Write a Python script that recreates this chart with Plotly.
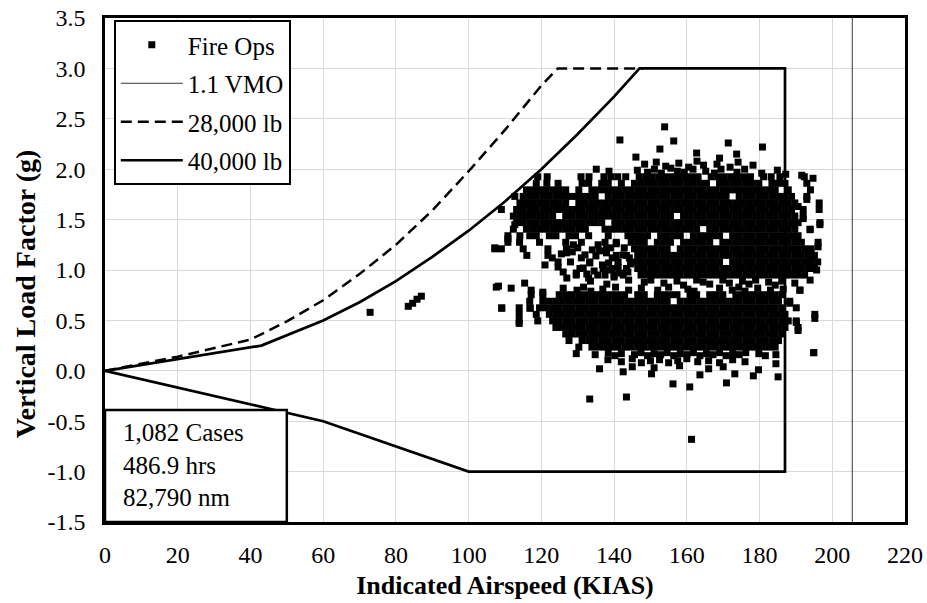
import plotly.graph_objects as go

# ---------------- data ----------------
x_tick_vals = [0, 20, 40, 60, 80, 100, 120, 140, 160, 180, 200, 220]
y_tick_vals = [-1.5, -1.0, -0.5, 0.0, 0.5, 1.0, 1.5, 2.0, 2.5, 3.0, 3.5]
y_tick_text = ["-1.5", "-1.0", "-0.5", "0.0", "0.5", "1.0", "1.5", "2.0", "2.5", "3.0", "3.5"]

# 1.1 VMO limit line
vmo_x = [205.5, 205.5]
vmo_y = [-1.5, 3.5]

# 28,000 lb envelope (dashed)
w28_x = [0, 20, 40, 50, 60, 70, 80, 90, 100, 110, 120, 124.5, 148]
w28_y = [0, 0.14, 0.31, 0.49, 0.70, 0.96, 1.25, 1.59, 1.98, 2.39, 2.83, 3.0, 3.0]

# 40,000 lb envelope (solid)
w40_x = [0, 43, 60, 70, 80, 90, 100, 110, 120, 130, 140, 147, 187, 187, 100, 60, 0]
w40_y = [0, 0.25, 0.5, 0.68, 0.89, 1.13, 1.39, 1.68, 2.0, 2.35, 2.72, 3.0, 3.0, -1.0, -1.0, -0.5, 0]

# Fire Ops points in the dense bands, read row by row (load factor, airspeeds)
upper_rows = [
    (1.925, [119.0, 121.6, 130.9, 133.1, 137.2, 139.1, 141.0, 143.2, 146.9, 148.7, 150.5, 152.3, 154.1, 155.9,
             157.7, 159.5, 161.3, 163.1, 166.7, 168.5, 170.3, 172.1, 173.9, 175.7, 177.5, 181.1, 183.2, 185.6,
             192.3]),
    (1.86, [118.6, 121.5, 124.6, 131.2, 133.0, 136.6, 138.4, 142.0, 145.6, 147.4, 149.2, 151.0, 152.8, 154.6,
            156.4, 158.2, 160.0, 161.8, 163.6, 165.4, 169.0, 170.8, 172.6, 174.4, 176.2, 178.0, 179.8, 183.4,
            185.2, 187.0, 193.0]),
    (1.795, [115.9, 117.7, 119.5, 121.3, 123.1, 124.9, 126.7, 130.3, 133.9, 135.7, 137.5, 139.3, 141.1, 142.9,
             144.7, 146.5, 148.3, 150.1, 151.9, 153.7, 155.5, 157.3, 159.1, 160.9, 162.7, 164.5, 166.3, 168.1,
             169.9, 171.7, 173.5, 175.3, 177.1, 178.9, 180.7, 182.5, 184.3, 187.9, 194.0]),
    (1.73, [115.0, 116.8, 118.6, 120.4, 122.2, 124.0, 125.8, 127.6, 129.4, 131.2, 133.0, 134.8, 138.4, 140.2,
            142.0, 143.8, 145.6, 147.4, 149.2, 151.0, 152.8, 154.6, 156.4, 158.2, 160.0, 161.8, 163.6, 165.4,
            167.2, 169.0, 170.8, 174.4, 176.2, 178.0, 179.8, 181.6, 183.4, 185.2, 187.0, 188.8, 193.0]),
    (1.665, [114.1, 115.9, 117.7, 119.5, 121.3, 123.1, 124.9, 126.7, 130.3, 132.1, 133.9, 135.7, 137.5,
             139.3, 141.1, 142.9, 144.7, 146.5, 148.3, 150.1, 151.9, 153.7, 155.5, 157.3, 159.1, 160.9, 162.7,
             164.5, 166.3, 168.1, 169.9, 171.7, 173.5, 175.3, 177.1, 178.9, 180.7, 182.5, 184.3, 186.1, 187.9,
             189.7, 196.4]),
    (1.60, [109.0, 113.2, 115.0, 116.8, 118.6, 120.4, 122.2, 124.0, 125.8, 127.6, 129.4, 131.2, 133.0, 134.8,
            136.6, 138.4, 140.2, 142.0, 143.8, 145.6, 147.4, 149.2, 151.0, 152.8, 154.6, 156.4, 158.2, 160.0,
            161.8, 163.6, 165.4, 167.2, 169.0, 170.8, 172.6, 174.4, 176.2, 178.0, 179.8, 181.6, 183.4, 185.2,
            187.0, 188.8, 192.0]),
    (1.535, [112.3, 114.1, 115.9, 117.7, 119.5, 121.3, 123.1, 126.7, 128.5, 130.3, 132.1, 133.9, 135.7,
             137.5, 139.3, 141.1, 142.9, 144.7, 146.5, 148.3, 150.1, 151.9, 153.7, 155.5, 159.1, 160.9,
             162.7, 164.5, 166.3, 168.1, 169.9, 171.7, 173.5, 175.3, 177.1, 178.9, 180.7, 182.5, 184.3, 186.1,
             187.9, 189.7, 192.0]),
    (1.47, [113.2, 115.0, 116.8, 118.6, 120.4, 122.2, 124.0, 125.8, 127.6, 129.4, 131.2, 133.0, 134.8, 136.6,
            140.2, 142.0, 143.8, 145.6, 147.4, 149.2, 151.0, 152.8, 154.6, 156.4, 158.2, 160.0, 161.8,
            163.6, 165.4, 167.2, 169.0, 170.8, 172.6, 174.4, 176.2, 178.0, 179.8, 181.6, 183.4, 185.2, 187.0,
            188.8, 190.6, 196.6]),
    (1.405, [112.3, 115.9, 117.7, 119.5, 121.3, 123.1, 124.9, 126.7, 128.5, 130.3, 132.1, 137.5,
             139.3, 141.1, 142.9, 144.7, 146.5, 148.3, 150.1, 151.9, 153.7, 155.5, 157.3, 159.1, 160.9, 162.7,
             166.3, 168.1, 169.9, 171.7, 173.5, 175.3, 177.1, 178.9, 180.7, 182.5, 184.3, 186.1, 187.9,
             189.7, 193.9]),
    (1.34, [110.8, 114.1, 116.8, 118.6, 122.2, 124.0, 127.6, 129.4, 133.0, 138.4, 143.8, 145.6, 147.4, 149.2,
            152.8, 154.6, 156.4, 158.2, 161.8, 163.6, 165.4, 167.2, 169.0, 172.6, 174.4, 176.2, 178.0, 179.8,
            181.6, 183.4, 185.2, 187.0, 188.8, 190.6]),
]

middle_rows = [
    (1.275, [110.8, 114.0, 119.5, 126.7, 131.0, 137.5, 140.6, 144.7, 146.5, 148.3, 151.9, 153.7, 155.5,
             159.1, 160.9, 162.7, 164.5, 166.3, 169.9, 171.7, 173.5, 175.3, 177.1, 178.9, 180.7,
             182.5, 184.3, 186.1, 187.9, 189.7, 191.5, 196.1]),
    (1.21, [107.2, 109.0, 115.0, 121.8, 126.9, 137.9, 145.6, 147.4, 149.2, 151.0, 152.8, 154.6, 158.2,
            160.0, 161.8, 163.6, 165.4, 167.2, 169.0, 170.8, 172.6, 174.4, 176.2, 178.0, 179.8, 181.6, 183.4,
            185.2, 187.0, 188.8, 190.6, 192.4, 194.2]),
    (1.145, [116.0, 121.8, 140.6, 143.4, 146.5, 148.3, 150.1, 151.9, 153.7, 155.5, 157.3, 159.1, 160.9, 162.7,
             164.5, 166.3, 168.1, 169.9, 171.7, 173.5, 175.3, 177.1, 178.9, 180.7, 182.5, 184.3, 186.1, 187.9,
             189.7, 191.5, 193.3, 195.1]),
    (1.08, [124.6, 133.3, 141.1, 145.6, 147.4, 149.2, 151.0, 152.8, 154.6, 156.4, 158.2, 160.0, 161.8, 163.6,
            165.4, 167.2, 169.0, 172.6, 174.4, 176.2, 178.0, 179.8, 181.6, 183.4, 185.2, 187.0, 188.8,
            190.6, 192.4, 194.2, 196.0]),
    (1.015, [130.6, 137.0, 139.5, 143.4, 146.5, 148.3, 150.1, 151.9, 153.7, 155.5, 157.3, 159.1, 160.9, 162.7,
             164.5, 166.3, 168.1, 169.9, 171.7, 173.5, 175.3, 177.1, 178.9, 180.7, 182.5, 184.3, 186.1, 187.9,
             189.7, 191.5, 193.3, 195.1]),
    (0.95, [129.6, 135.5, 140.0, 142.5, 147.4, 149.2, 151.0, 152.8, 154.6, 156.4, 158.2, 160.0, 161.8, 163.6,
            165.4, 167.2, 169.0, 170.8, 172.6, 174.4, 176.2, 178.0, 179.8, 181.6, 183.4, 185.2, 187.0, 188.8,
            190.6, 192.4]),
]

lower_rows = [
    (0.755, [117.2, 120.4, 124.9, 126.7, 128.5, 130.3, 132.1, 133.9, 135.7, 137.5, 139.3, 141.1, 142.9, 146.5,
             148.3, 151.9, 153.7, 155.5, 157.3, 160.9, 162.7, 166.3, 168.1, 169.9, 173.5, 175.3, 177.1,
             178.9, 180.7, 182.5, 184.3, 186.1]),
    (0.69, [116.8, 120.4, 122.2, 124.0, 125.8, 127.6, 129.4, 131.2, 133.0, 134.8, 136.6, 138.4, 140.2, 142.0,
            143.8, 145.6, 147.4, 149.2, 151.0, 152.8, 154.6, 158.2, 160.0, 161.8, 163.6, 165.4, 167.2,
            169.0, 170.8, 172.6, 174.4, 176.2, 178.0, 179.8, 181.6, 183.4, 185.2, 188.3]),
    (0.625, [109.1, 113.9, 116.9, 119.5, 121.3, 123.1, 124.9, 126.7, 128.5, 130.3, 132.1, 133.9, 135.7, 137.5,
             139.3, 141.1, 142.9, 144.7, 146.5, 148.3, 150.1, 151.9, 153.7, 155.5, 157.3, 159.1, 160.9, 162.7,
             164.5, 166.3, 168.1, 169.9, 171.7, 173.5, 175.3, 177.1, 178.9, 180.7, 182.5, 184.3, 186.1, 190.1]),
    (0.56, [113.9, 118.6, 122.2, 124.0, 125.8, 127.6, 129.4, 131.2, 133.0, 134.8, 136.6, 138.4, 140.2, 142.0,
            143.8, 145.6, 147.4, 149.2, 151.0, 152.8, 154.6, 156.4, 158.2, 160.0, 161.8, 163.6, 165.4, 167.2,
            169.0, 170.8, 172.6, 174.4, 176.2, 178.0, 179.8, 181.6, 183.4, 185.2, 187.0, 195.2]),
    (0.495, [113.9, 119.0, 123.1, 124.9, 126.7, 128.5, 130.3, 132.1, 133.9, 135.7, 137.5, 139.3, 141.1, 142.9,
             144.7, 146.5, 148.3, 150.1, 151.9, 153.7, 155.5, 157.3, 159.1, 160.9, 162.7, 164.5, 166.3, 168.1,
             169.9, 171.7, 173.5, 175.3, 177.1, 178.9, 180.7, 182.5, 184.3, 186.1, 187.9, 190.1]),
    (0.43, [124.0, 125.8, 127.6, 129.4, 131.2, 133.0, 134.8, 136.6, 138.4, 140.2, 142.0, 143.8, 145.6, 147.4,
            149.2, 151.0, 152.8, 154.6, 156.4, 158.2, 160.0, 161.8, 163.6, 165.4, 167.2, 169.0, 170.8, 172.6,
            174.4, 176.2, 178.0, 179.8, 181.6, 183.4, 185.2, 187.0, 190.6]),
    (0.365, [126.7, 128.5, 130.3, 132.1, 133.9, 135.7, 137.5, 139.3, 141.1, 142.9, 144.7, 146.5, 148.3, 150.1,
             151.9, 153.7, 155.5, 157.3, 159.1, 160.9, 162.7, 164.5, 166.3, 168.1, 169.9, 171.7, 173.5, 175.3,
             177.1, 178.9, 180.7, 182.5, 184.3, 186.1]),
    (0.30, [127.6, 131.2, 133.0, 134.8, 136.6, 138.4, 140.2, 142.0, 143.8, 145.6, 147.4, 149.2, 151.0,
            152.8, 154.6, 156.4, 158.2, 160.0, 161.8, 163.6, 165.4, 167.2, 169.0, 170.8, 172.6, 174.4, 176.2,
            178.0, 179.8, 181.6, 183.4, 185.2]),
    (0.235, [130.3, 133.9, 135.7, 137.5, 139.3, 141.1, 142.9, 144.7, 146.5, 148.3, 150.1, 151.9, 153.7, 155.5,
             157.3, 159.1, 160.9, 162.7, 164.5, 166.3, 168.1, 169.9, 171.7, 173.5, 175.3, 177.1, 178.9, 180.7,
             182.5, 184.3]),
]

# ragged edges and isolated points (airspeed, load factor)
top_edge = [
    (148.4, 2.05), (151.6, 2.07), (154.2, 2.03), (157.8, 2.06), (160.5, 2.02), (162.8, 2.08), (164.6, 2.04),
    (168.3, 2.05), (171.9, 2.02), (174.1, 2.07), (178.2, 2.04),
    (135.1, 2.00), (138.6, 1.98), (146.4, 1.99), (149.2, 1.97), (151.1, 2.00), (153.0, 1.96), (155.6, 2.01),
    (157.4, 1.98), (159.3, 1.97), (161.7, 2.00), (165.2, 1.98), (167.6, 1.96), (169.4, 2.00), (173.8, 1.97),
    (175.9, 2.00), (180.6, 1.96), (184.9, 1.99), (187.2, 1.95),
]
band_gap = [
    (115.4, 0.87), (133.5, 0.89), (138.0, 0.86), (144.0, 0.90), (148.3, 0.88), (150.1, 0.90), (153.7, 0.87),
    (157.3, 0.89), (159.1, 0.85), (162.7, 0.90), (164.5, 0.88), (166.3, 0.86), (169.9, 0.90), (171.7, 0.87),
    (175.3, 0.89), (177.1, 0.86), (178.9, 0.90), (182.5, 0.88), (184.3, 0.85), (186.1, 0.89), (189.7, 0.87),
    (107.6, 0.83), (111.7, 0.82), (117.2, 0.80), (120.4, 0.78), (126.0, 0.82), (129.8, 0.80), (131.6, 0.83),
    (133.6, 0.79), (136.9, 0.81), (140.4, 0.83), (144.0, 0.80), (147.5, 0.82), (152.0, 0.80), (155.0, 0.83),
    (160.3, 0.81), (162.0, 0.79), (169.0, 0.82), (172.5, 0.80), (174.3, 0.83), (176.0, 0.79), (179.5, 0.82),
    (183.0, 0.80), (186.5, 0.81), (191.1, 0.80),
    (125.5, 1.16), (128.0, 1.08), (131.0, 1.12), (132.5, 0.96), (135.0, 1.14), (138.5, 1.07), (140.0, 0.93),
    (142.5, 1.15), (143.8, 0.98), (144.5, 1.06), (139.0, 1.22), (130.0, 1.22), (127.0, 0.92), (134.0, 1.20),
    (124.6, 1.03), (126.9, 1.17), (129.6, 0.97), (133.3, 1.07), (137.9, 1.17), (141.1, 1.03),
    (140.6, 1.26), (134.5, 0.99), (136.8, 1.05),
    (121.0, 1.05), (123.0, 1.12), (126.0, 0.98), (128.5, 1.18), (131.5, 1.02), (133.0, 0.92), (136.0, 1.19),
    (137.5, 0.95), (139.5, 1.12), (141.5, 0.97), (142.8, 1.22), (144.2, 1.12), (138.8, 1.00), (132.0, 1.15),
    (128.8, 1.25), (135.6, 1.25),
]
bottom_edge = [
    (129.6, 0.17), (134.8, 0.16), (138.4, 0.18), (140.2, 0.15), (142.0, 0.17), (145.6, 0.16), (147.4, 0.18),
    (149.2, 0.15), (151.0, 0.17), (152.8, 0.16), (154.6, 0.18), (156.4, 0.15), (158.2, 0.17), (160.0, 0.16),
    (161.8, 0.18), (163.6, 0.15), (165.4, 0.17), (167.2, 0.16), (169.0, 0.18), (170.8, 0.15), (172.6, 0.17),
    (174.4, 0.16), (176.2, 0.18), (179.8, 0.17), (181.6, 0.15), (184.5, 0.16), (194.9, 0.18),
    (138.3, 0.11), (142.0, 0.09), (145.0, 0.12), (147.5, 0.08), (150.0, 0.10), (152.5, 0.11), (155.0, 0.08),
    (157.5, 0.10), (160.0, 0.12), (163.0, 0.09), (166.0, 0.10), (169.0, 0.08), (172.6, 0.11), (176.0, 0.09),
    (184.5, 0.07),
    (136.0, 0.02), (145.0, 0.04), (151.0, 0.03), (158.0, 0.05), (166.0, 0.02), (170.0, 0.04), (179.7, 0.01),
]
sparse_points = [
    (72.9, 0.58), (83.4, 0.64), (84.6, 0.67), (85.8, 0.71), (87.0, 0.74),
    (153.9, 2.42), (156.4, 2.28), (141.6, 2.29), (152.6, 2.20), (171.4, 2.26), (173.7, 2.15),
    (180.8, 2.22), (162.7, 2.16), (146.0, 2.12), (169.0, 2.11),
    (142.5, -0.01), (150.3, -0.03), (156.2, -0.13), (160.8, -0.16), (163.6, -0.04), (170.9, -0.12),
    (173.2, -0.03), (178.3, -0.05), (185.1, -0.06), (133.3, -0.28), (143.4, -0.26), (161.3, -0.68),
    (108.2, 0.84), (109.1, 0.62), (113.9, 0.47), (116.9, 0.62),
    (107.2, 1.22), (110.8, 1.31), (112.7, 1.45), (112.7, 1.73), (116.3, 1.66), (119.0, 1.79),
    (196.1, 1.23), (196.6, 1.45), (196.4, 1.60), (194.7, 1.91), (191.6, 1.94), (193.0, 1.70),
    (192.0, 1.51), (190.6, 1.63), (193.9, 1.40), (194.4, 1.13), (193.9, 0.90), (191.1, 0.80),
    (195.7, 1.00), (195.2, 0.52), (194.9, 0.18), (190.6, 0.40), (190.1, 0.48), (188.3, 0.67),
]

stats_text = "1,082 Cases<br>486.9 hrs<br>82,790 nm"
x_title = "<b>Indicated Airspeed (KIAS)</b>"
y_title = "<b>Vertical Load Factor (g)</b>"

# ---------------- build figure ----------------
fire_x, fire_y = [], []
for load, speeds in upper_rows + middle_rows + lower_rows:
    for s in speeds:
        fire_x.append(s)
        fire_y.append(load)
for s, load in top_edge + band_gap + bottom_edge + sparse_points:
    fire_x.append(s)
    fire_y.append(load)

FONT = "Liberation Serif"

fig = go.Figure()
fig.add_trace(go.Scatter(
    x=fire_x, y=fire_y, mode="markers", name="Fire Ops", legendgroup="a",
    marker=dict(symbol="square", size=7, color="black", line=dict(width=0)),
))
fig.add_trace(go.Scatter(
    x=vmo_x, y=vmo_y, mode="lines", name="1.1 VMO", legendgroup="b",
    line=dict(color="#3a3a3a", width=1),
))
fig.add_trace(go.Scatter(
    x=w28_x, y=w28_y, mode="lines", name="28,000 lb", legendgroup="c",
    line=dict(color="black", width=2.5, dash="11px,6px"),
))
fig.add_trace(go.Scatter(
    x=w40_x, y=w40_y, mode="lines", name="40,000 lb", legendgroup="d",
    line=dict(color="black", width=2.7),
))

# stats box
fig.add_shape(type="rect", xref="x", yref="y", x0=0, x1=50, y0=-1.5, y1=-0.39,
              line=dict(color="black", width=2.5), fillcolor="white", layer="above")
fig.add_annotation(xref="x", yref="y", x=4.3, y=-0.93, text=stats_text, showarrow=False,
                   xanchor="left", yanchor="middle", align="left",
                   font=dict(family=FONT, size=25, color="black"))

# y-axis title (sits a little below the plot centre in the reference)
fig.add_annotation(xref="paper", yref="paper", x=-0.1, y=0.452, text=y_title, showarrow=False,
                   textangle=-90, xanchor="center", yanchor="middle",
                   font=dict(family=FONT, size=28, color="black"))

fig.update_layout(
    width=927, height=603, autosize=False,
    margin=dict(l=105, r=22, t=18, b=81),
    plot_bgcolor="white", paper_bgcolor="white",
    font=dict(family=FONT, color="black"),
    showlegend=True,
    legend=dict(
        x=0.011, y=0.996, xanchor="left", yanchor="top",
        bgcolor="white", bordercolor="black", borderwidth=2,
        font=dict(family=FONT, size=25, color="black"),
        traceorder="grouped", tracegroupgap=3, itemwidth=62,
    ),
    xaxis=dict(
        range=[0, 220], tickvals=x_tick_vals, ticktext=[str(v) for v in x_tick_vals],
        showgrid=True, gridcolor="#d9d9d9", gridwidth=1, zeroline=False, automargin=False,
        showline=True, linecolor="black", linewidth=2.5, mirror=True, ticks="",
        tickfont=dict(family=FONT, size=24, color="black"), ticklabelstandoff=9,
        title=dict(text=x_title, standoff=10,
                   font=dict(family=FONT, size=26, color="black")),
    ),
    yaxis=dict(
        range=[-1.5, 3.5], tickvals=y_tick_vals, ticktext=y_tick_text,
        showgrid=True, gridcolor="#d9d9d9", gridwidth=1, zeroline=False, automargin=False,
        showline=True, linecolor="black", linewidth=2.5, mirror=True, ticks="",
        tickfont=dict(family=FONT, size=24, color="black"), ticklabelstandoff=12,
    ),
)

fig.write_html("out.html")
